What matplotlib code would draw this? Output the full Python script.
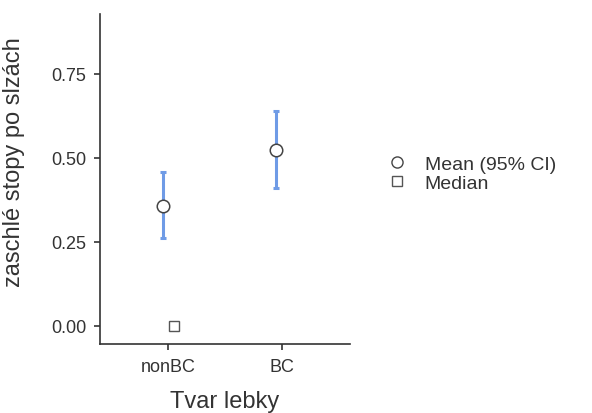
import matplotlib.pyplot as plt
from matplotlib.lines import Line2D

plt.rcParams['font.family'] = ['Liberation Sans', 'DejaVu Sans']

groups = ["nonBC", "BC"]
means = [0.357, 0.525]
ci_low = [0.262, 0.410]
ci_high = [0.458, 0.639]
medians = [0.0]  # only nonBC median visible

fig = plt.figure(figsize=(5.92, 4.14), dpi=100)
ax = fig.add_axes([0.169, 0.167, 0.422, 0.797])

xpos = [1, 2]
off = 0.05
blue = '#6f9be6'
for i, g in enumerate(groups):
    x = xpos[i] - off
    ax.errorbar(x, means[i], yerr=[[means[i] - ci_low[i]], [ci_high[i] - means[i]]],
                fmt='none', ecolor=blue, elinewidth=2.2, capsize=2.5, capthick=2.2, zorder=2)
    ax.plot(x, means[i], 'o', ms=9, mfc='white', mec='#444444', mew=1.1, zorder=3)
for i, m in enumerate(medians):
    ax.plot(xpos[i] + off, m, 's', ms=7, mfc='white', mec='#555555', mew=1.0, zorder=3)

ax.set_xlim(0.4, 2.6)
ax.set_ylim(-0.054, 0.929)
ax.set_xticks(xpos)
ax.set_xticklabels(groups)
ax.set_yticks([0, 0.25, 0.5, 0.75])
ax.set_yticklabels(['0.00', '0.25', '0.50', '0.75'])
for s in ['top', 'right']:
    ax.spines[s].set_visible(False)
for s in ['left', 'bottom']:
    ax.spines[s].set_color('#333333')
    ax.spines[s].set_linewidth(1.2)
ax.tick_params(colors='#333333', labelsize=13, length=4, width=1.2, labelcolor='#333333', pad=6)
ax.set_xlabel('Tvar lebky', fontsize=17, color='#333333')
ax.set_ylabel('zaschlé stopy po slzách', fontsize=17, color='#333333')
ax.xaxis.set_label_coords(0.5, -0.14)
ax.yaxis.set_label_coords(-0.30, 0.555)

handles = [Line2D([], [], ls='none', marker='o', ms=8, mfc='white', mec='#444444'),
           Line2D([], [], ls='none', marker='s', ms=7, mfc='white', mec='#555555')]
fig.legend(handles, ['Mean (95% CI)', 'Median'], loc='center left',
           bbox_to_anchor=(0.609, 0.578), frameon=False, fontsize=14,
           handletextpad=0.4, labelspacing=0.05, labelcolor='#333333')

plt.savefig('out.png', dpi=100)
